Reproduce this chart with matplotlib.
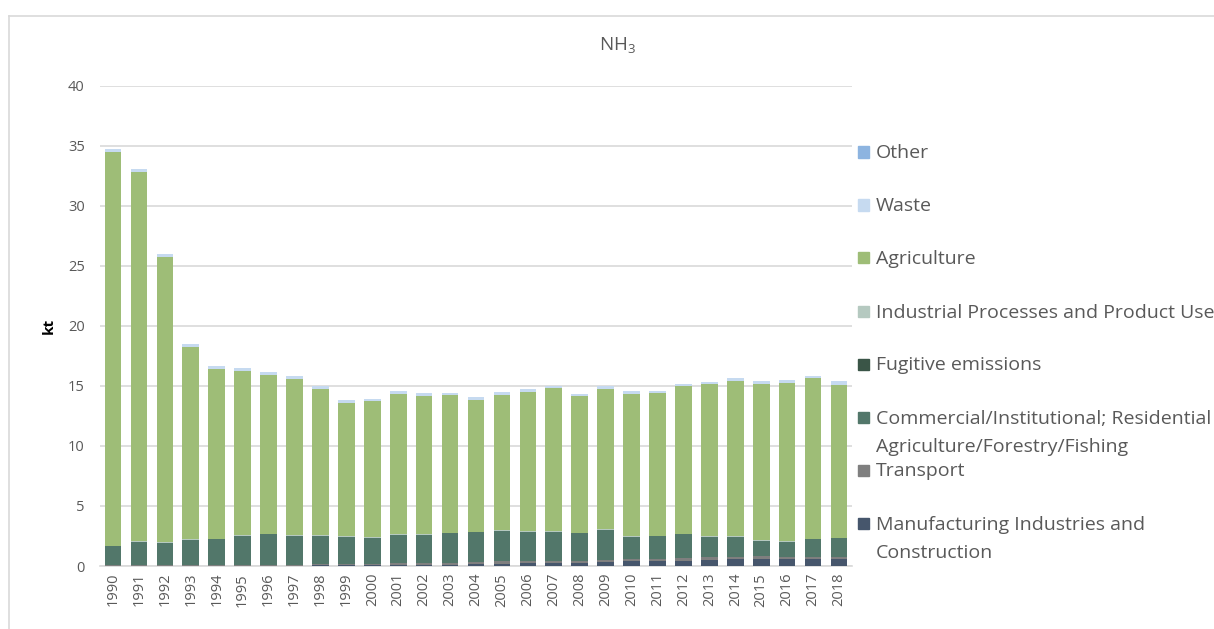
import numpy as np
import matplotlib
matplotlib.use('Agg')
import matplotlib.pyplot as plt
from matplotlib.patches import Rectangle
from matplotlib.lines import Line2D

plt.rcParams['font.family'] = ['Open Sans', 'DejaVu Sans']
plt.rcParams['mathtext.fontset'] = 'custom'
plt.rcParams['mathtext.rm'] = 'Open Sans'
plt.rcParams['mathtext.it'] = 'Open Sans'

YEARS = [str(y) for y in range(1990, 2019)]

# kt (stack order: bottom -> top)
manufacturing = [0.03, 0.03, 0.03, 0.03, 0.03, 0.03, 0.03, 0.03, 0.05, 0.05,
                 0.05, 0.08, 0.08, 0.08, 0.15, 0.15, 0.22, 0.22, 0.22, 0.30,
                 0.39, 0.39, 0.44, 0.53, 0.58, 0.61, 0.55, 0.55, 0.60]
transport = [0.04, 0.04, 0.04, 0.04, 0.04, 0.04, 0.04, 0.04, 0.10, 0.10,
             0.10, 0.15, 0.15, 0.15, 0.15, 0.25, 0.17, 0.17, 0.17, 0.19,
             0.19, 0.19, 0.22, 0.19, 0.19, 0.19, 0.19, 0.19, 0.19]
commercial = [1.59, 1.95, 1.88, 2.13, 2.18, 2.45, 2.59, 2.46, 2.37, 2.30,
              2.22, 2.38, 2.38, 2.52, 2.50, 2.53, 2.48, 2.48, 2.35, 2.53,
              1.85, 1.93, 1.99, 1.73, 1.68, 1.30, 1.29, 1.50, 1.54]
fugitive = [0.0] * 29
ippu = [0.03] * 29
agriculture = [32.76, 30.78, 23.74, 15.99, 14.14, 13.73, 13.23, 13.01, 12.20, 11.10,
               11.30, 11.65, 11.51, 11.45, 11.00, 11.27, 11.57, 11.94, 11.38, 11.71,
               11.87, 11.88, 12.30, 12.69, 12.91, 13.04, 13.16, 13.37, 12.75]
waste = [0.25, 0.23, 0.25, 0.23, 0.22, 0.22, 0.22, 0.23, 0.22, 0.23,
         0.23, 0.25, 0.25, 0.20, 0.25, 0.27, 0.23, 0.16, 0.20, 0.22,
         0.27, 0.12, 0.19, 0.19, 0.28, 0.27, 0.31, 0.22, 0.33]
other = [0.0] * 29

SERIES = [
    ('Manufacturing Industries and\nConstruction', manufacturing, '#46566c'),
    ('Transport', transport, '#7f7f7f'),
    ('Commercial/Institutional; Residential\nAgriculture/Forestry/Fishing', commercial, '#52776a'),
    ('Fugitive emissions', fugitive, '#3a5547'),
    ('Industrial Processes and Product Use', ippu, '#b5c9c0'),
    ('Agriculture', agriculture, '#9ebd77'),
    ('Waste', waste, '#c6daf0'),
    ('Other', other, '#8db4e0'),
]

GRAY = '#595959'

fig = plt.figure(figsize=(12.14, 6.29), dpi=100)
ax = fig.add_axes([100 / 1214, 1 - 566 / 629, 752 / 1214, (566 - 85.7) / 629])

x = np.arange(len(YEARS))
bottom = np.zeros(len(YEARS))
for name, vals, col in SERIES:
    ax.bar(x, vals, 0.64, bottom=bottom, color=col, linewidth=0, zorder=3)
    bottom += np.array(vals)

ax.set_xlim(-0.5, len(YEARS) - 0.5)
ax.set_ylim(0, 40)
ax.set_yticks(range(0, 41, 5))
ax.set_xticks(x)
ax.set_xticklabels(YEARS, rotation=90)
ax.tick_params(axis='both', length=0, labelcolor=GRAY, labelsize=10.5)
ax.tick_params(axis='y', pad=11)
ax.tick_params(axis='x', pad=5)
ax.grid(axis='y', color='#d9d9d9', linewidth=1.2, zorder=0)
for s in ['top', 'right', 'left']:
    ax.spines[s].set_visible(False)
ax.spines['bottom'].set_color('#d9d9d9')
ax.spines['bottom'].set_linewidth(1.2)

ax.set_ylabel('kt', fontweight='bold', fontsize=11, color='black', labelpad=9)
fig.text(617 / 1214, 1 - 45 / 629, 'NH$_3$', ha='center', va='center', fontsize=13.5, color=GRAY)

# legend, drawn entry by entry so the spacing matches
for i, (name, vals, col) in enumerate(SERIES[::-1]):
    yc = 152 + 53 * i
    fig.patches.append(Rectangle((858 / 1214, 1 - (yc + 5.5) / 629), 11 / 1214, 11 / 629,
                                 transform=fig.transFigure, color=col, figure=fig))
    fig.text(876 / 1214, 1 - (yc - 7.5) / 629, name, ha='left', va='top', fontsize=14,
             color=GRAY, linespacing=1.72)

# outer chart frame (left and top edges)
fig.add_artist(Line2D([9 / 1214, 9 / 1214], [0, 1 - 16 / 629], color='#d9d9d9', lw=1.2,
                      transform=fig.transFigure))
fig.add_artist(Line2D([9 / 1214, 1], [1 - 16 / 629, 1 - 16 / 629], color='#d9d9d9', lw=1.2,
                      transform=fig.transFigure))

fig.savefig('out.png', dpi=100, facecolor='white')
